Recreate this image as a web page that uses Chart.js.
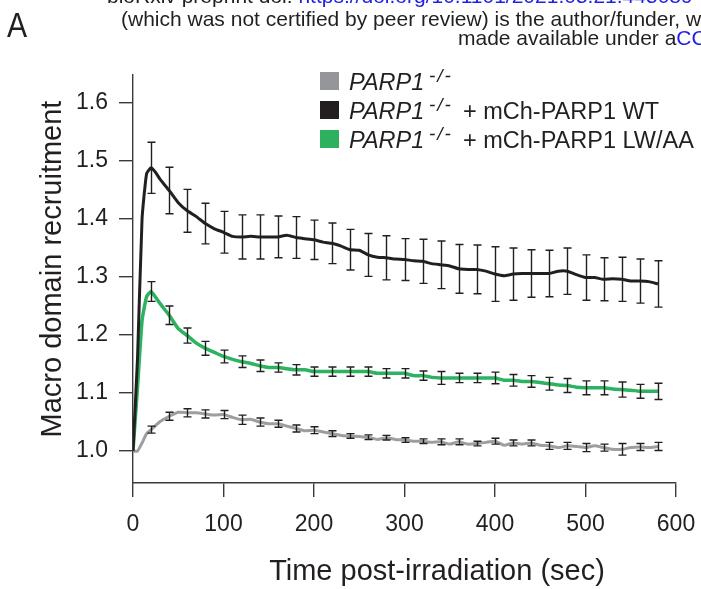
<!DOCTYPE html>
<html>
<head>
<meta charset="utf-8">
<script src="https://cdn.jsdelivr.net/npm/chart.js@4.4.0/dist/chart.umd.min.js"></script>
<style>
  html, body { margin: 0; padding: 0; background: #fff; }
  canvas { display: block; }
</style>
</head>
<body>
<canvas id="chart" width="701" height="589"></canvas>
<script>
// sampling times (sec) of the averaged recruitment curves
const times = [0, 5, 10, 15, 20, 25, 30, 40, 50, 60, 70, 80, 90, 100, 110, 120, 130, 140, 150, 160,
  170, 180, 190, 200, 210, 220, 230, 240, 250, 260, 270, 280, 290, 300, 310, 320, 330, 340, 350, 360,
  370, 380, 390, 400, 410, 420, 430, 440, 450, 460, 470, 480, 490, 500, 510, 520, 530, 540, 550, 560,
  570, 580];

// times where the error bars sit
const errTimes = [20, 40, 60, 80, 100, 120, 140, 160, 180, 200, 220, 240, 260, 280, 300, 320, 340,
  360, 380, 400, 420, 440, 460, 480, 500, 520, 540, 560, 580];

// PARP1 -/- + mCh-PARP1 WT
const wtValues = [1.0, 1.16, 1.40, 1.478, 1.488, 1.48, 1.468, 1.449, 1.428, 1.414, 1.404, 1.392, 1.383, 1.377,
  1.370, 1.369, 1.370, 1.369, 1.369, 1.369, 1.372, 1.368, 1.366, 1.364, 1.360, 1.358, 1.353, 1.347, 1.346,
  1.338, 1.334, 1.333, 1.331, 1.330, 1.328, 1.327, 1.323, 1.321, 1.319, 1.314, 1.313, 1.313, 1.310, 1.305,
  1.302, 1.305, 1.306, 1.306, 1.306, 1.306, 1.310, 1.310, 1.304, 1.299, 1.299, 1.296, 1.297, 1.296, 1.293,
  1.293, 1.292, 1.288];
const wtErr = [0.044, 0.040, 0.037, 0.035, 0.036, 0.038, 0.038, 0.036, 0.036, 0.034, 0.035, 0.035, 0.037,
  0.038, 0.036, 0.038, 0.041, 0.042, 0.042, 0.047, 0.045, 0.041, 0.040, 0.040, 0.039, 0.037, 0.038, 0.038,
  0.040];

// PARP1 -/- + mCh-PARP1 LW/AA
const lwValues = [1.0, 1.11, 1.225, 1.266, 1.275, 1.265, 1.254, 1.234, 1.211, 1.199, 1.186, 1.177, 1.170,
  1.163, 1.158, 1.154, 1.151, 1.147, 1.144, 1.144, 1.142, 1.140, 1.140, 1.137, 1.137, 1.137, 1.137, 1.137,
  1.137, 1.137, 1.134, 1.134, 1.134, 1.134, 1.130, 1.130, 1.127, 1.126, 1.126, 1.126, 1.126, 1.126, 1.126,
  1.126, 1.122, 1.122, 1.120, 1.120, 1.118, 1.116, 1.114, 1.113, 1.110, 1.109, 1.109, 1.109, 1.107, 1.106,
  1.105, 1.103, 1.103, 1.103];
const lwErr = [0.017, 0.016, 0.013, 0.012, 0.011, 0.010, 0.010, 0.008, 0.009, 0.008, 0.008, 0.008, 0.008,
  0.008, 0.008, 0.008, 0.011, 0.008, 0.008, 0.010, 0.010, 0.010, 0.011, 0.012, 0.012, 0.012, 0.013, 0.012,
  0.014];

// PARP1 -/-
const koValues = [1.0, 1.0, 1.014, 1.030, 1.037, 1.044, 1.051, 1.060, 1.067, 1.066, 1.066, 1.064, 1.062,
  1.063, 1.058, 1.054, 1.055, 1.050, 1.047, 1.047, 1.043, 1.039, 1.035, 1.036, 1.033, 1.030, 1.027, 1.026,
  1.025, 1.024, 1.020, 1.023, 1.020, 1.019, 1.017, 1.017, 1.015, 1.016, 1.012, 1.016, 1.012, 1.013, 1.015,
  1.017, 1.010, 1.014, 1.012, 1.014, 1.010, 1.009, 1.006, 1.009, 1.008, 1.006, 1.009, 1.006, 1.003, 1.003,
  1.006, 1.007, 1.006, 1.008];
const koErr = [0.006, 0.007, 0.007, 0.007, 0.007, 0.008, 0.007, 0.006, 0.006, 0.006, 0.005, 0.004, 0.004,
  0.004, 0.004, 0.004, 0.005, 0.005, 0.004, 0.005, 0.005, 0.005, 0.006, 0.006, 0.007, 0.006, 0.010, 0.006,
  0.007];

const yTicks = [1.0, 1.1, 1.2, 1.3, 1.4, 1.5, 1.6];
const xTicks = [0, 100, 200, 300, 400, 500, 600];

const FONT = "'Liberation Sans', Arial, Helvetica, sans-serif";
const INK = '#231f20';
const AXIS = '#3a3a3a';
const GREEN = '#2bb35f';
const GREY = '#9c9ea0';

const series = [
  { label: 'WT', values: wtValues, err: wtErr, color: INK, width: 3 },
  { label: 'LW/AA', values: lwValues, err: lwErr, color: GREEN, width: 3.5 },
  { label: 'KO', values: koValues, err: koErr, color: GREY, width: 3 }
];

// vertical SEM bars with small caps
const errorBars = {
  id: 'errorBars',
  afterDatasetsDraw(chart) {
    const { ctx, scales: { x, y } } = chart;
    ctx.save();
    ctx.strokeStyle = INK;
    ctx.lineWidth = 1.4;
    series.forEach(s => {
      errTimes.forEach((t, i) => {
        const v = s.values[times.indexOf(t)];
        const px = Math.round(x.getPixelForValue(t)) + 0.5;
        const top = y.getPixelForValue(v + s.err[i]);
        const bot = y.getPixelForValue(v - s.err[i]);
        ctx.beginPath();
        ctx.moveTo(px, top); ctx.lineTo(px, bot);
        ctx.moveTo(px - 4, top); ctx.lineTo(px + 4, top);
        ctx.moveTo(px - 4, bot); ctx.lineTo(px + 4, bot);
        ctx.stroke();
      });
    });
    ctx.restore();
  }
};

// header lines, panel letter, legend and axis titles
const annotations = {
  id: 'annotations',
  afterDraw(chart) {
    const ctx = chart.ctx;
    ctx.save();
    ctx.textBaseline = 'alphabetic';
    ctx.textAlign = 'left';

    // preprint header
    ctx.font = '21px ' + FONT;
    ctx.fillStyle = INK;
    let w = ctx.measureText('bioRxiv preprint doi: ').width;
    ctx.fillText('bioRxiv preprint doi: ', 107, 3);
    ctx.fillStyle = '#1f1fe6';
    ctx.fillText('https://doi.org/10.1101/2021.05.21.445089', 107 + w, 3);
    ctx.fillStyle = INK;
    ctx.fillText('(which was not certified by peer review) is the author/funder, who has granted bioRxiv a license', 121, 26);
    w = ctx.measureText('made available under a').width;
    ctx.fillText('made available under a', 458, 45);
    ctx.fillStyle = '#1f1fe6';
    ctx.fillText('CC-BY-NC-ND 4.0 International license', 458 + w, 45);

    // panel letter
    ctx.fillStyle = INK;
    ctx.save();
    ctx.translate(7, 37);
    ctx.scale(0.86, 1);
    ctx.font = '35px ' + FONT;
    ctx.fillText('A', 0, 0);
    ctx.restore();

    // legend
    const rows = [
      { color: '#949699', text: '' },
      { color: INK, text: '+ mCh-PARP1 WT' },
      { color: '#2db15e', text: '+ mCh-PARP1 LW/AA' }
    ];
    rows.forEach((r, i) => {
      const base = 90 + i * 29;
      ctx.fillStyle = r.color;
      ctx.fillRect(320, base - 18, 19, 18);
      ctx.fillStyle = INK;
      ctx.font = 'italic 23.5px ' + FONT;
      ctx.fillText('PARP1', 349, base);
      ctx.font = 'italic 19px ' + FONT;
      ctx.letterSpacing = '2px';
      ctx.fillText('-/-', 429, base - 8);
      ctx.letterSpacing = '0px';
      if (r.text) {
        ctx.font = '23.5px ' + FONT;
        ctx.fillText(r.text, 463, base);
      }
    });

    // axis titles
    ctx.font = '29px ' + FONT;
    ctx.textAlign = 'center';
    ctx.fillText('Time post-irradiation (sec)', 437, 580);
    ctx.save();
    ctx.translate(61, 269);
    ctx.rotate(-Math.PI / 2);
    ctx.fillText('Macro domain recruitment', 0, 0);
    ctx.restore();

    ctx.restore();
  }
};

const datasets = series.map(s => ({
  label: s.label,
  data: times.map((t, i) => ({ x: t, y: s.values[i] })),
  borderColor: s.color,
  backgroundColor: s.color,
  borderWidth: s.width,
  pointRadius: 0,
  tension: 0.15,
  fill: false
}));

new Chart(document.getElementById('chart'), {
  type: 'line',
  data: { datasets: datasets },
  options: {
    responsive: false,
    animation: false,
    devicePixelRatio: 1,
    layout: { padding: { top: 75, right: 25, left: 0, bottom: 0 } },
    plugins: {
      legend: { display: false },
      tooltip: { enabled: false }
    },
    scales: {
      x: {
        type: 'linear',
        min: 0,
        max: 600,
        afterBuildTicks: scale => { scale.ticks = xTicks.map(v => ({ value: v })); },
        afterFit: scale => {
          scale.height = 106;
          scale.paddingLeft = 0;
          scale.paddingRight = 0;
        },
        ticks: {
          color: INK,
          font: { size: 23, family: FONT },
          padding: 14,
          maxRotation: 0,
          callback: v => v
        },
        grid: { drawOnChartArea: false, tickLength: 14, color: AXIS, lineWidth: 1.4 },
        border: { color: AXIS, width: 1.4 }
      },
      y: {
        min: 0.945,
        max: 1.648,
        afterBuildTicks: scale => { scale.ticks = yTicks.map(v => ({ value: v })); },
        afterFit: scale => {
          scale.width = 133;
          scale.paddingTop = 0;
          scale.paddingBottom = 0;
        },
        ticks: {
          color: INK,
          font: { size: 23, family: FONT },
          padding: 11,
          callback: v => v.toFixed(1)
        },
        grid: { drawOnChartArea: false, tickLength: 14, color: AXIS, lineWidth: 1.4 },
        border: { color: AXIS, width: 1.4 }
      }
    }
  },
  plugins: [errorBars, annotations]
});
</script>
</body>
</html>
